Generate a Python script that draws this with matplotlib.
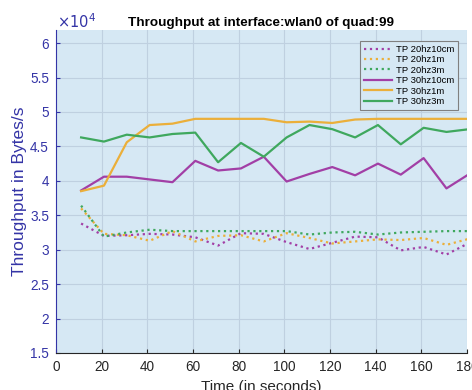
import matplotlib
matplotlib.use("Agg")
import matplotlib.pyplot as plt
import numpy as np

plt.rcParams['font.family'] = ['Liberation Sans', 'DejaVu Sans']

time_s = [11, 21, 31, 41, 51, 61, 71, 81, 91, 101, 111, 121, 131, 141, 151, 161, 171, 181]

tp_20hz10cm = [3.38, 3.20, 3.21, 3.23, 3.22, 3.18, 3.06, 3.24, 3.23, 3.11, 3.01, 3.10, 3.19, 3.18, 2.99, 3.04, 2.93, 3.10]
tp_20hz1m   = [3.60, 3.23, 3.21, 3.13, 3.27, 3.12, 3.20, 3.21, 3.12, 3.24, 3.17, 3.09, 3.12, 3.15, 3.14, 3.17, 3.07, 3.16]
tp_20hz3m   = [3.64, 3.19, 3.25, 3.29, 3.27, 3.27, 3.27, 3.27, 3.27, 3.27, 3.22, 3.25, 3.26, 3.22, 3.25, 3.26, 3.27, 3.27]
tp_30hz10cm = [3.86, 4.06, 4.06, 4.02, 3.98, 4.29, 4.15, 4.18, 4.35, 3.99, 4.10, 4.20, 4.08, 4.25, 4.09, 4.33, 3.89, 4.10]
tp_30hz1m   = [3.85, 3.93, 4.56, 4.81, 4.83, 4.90, 4.90, 4.90, 4.90, 4.85, 4.86, 4.84, 4.89, 4.90, 4.90, 4.90, 4.90, 4.90]
tp_30hz3m   = [4.63, 4.57, 4.67, 4.63, 4.68, 4.70, 4.27, 4.55, 4.35, 4.63, 4.81, 4.75, 4.63, 4.81, 4.53, 4.77, 4.71, 4.75]

labels = ['TP 20hz10cm', 'TP 20hz1m', 'TP 20hz3m', 'TP 30hz10cm', 'TP 30hz1m', 'TP 30hz3m']
title = 'Throughput at interface:wlan0 of quad:99'
scale = 1e4

purple = '#A23FA6'
orange = '#EBAF3A'
green = '#3FA85E'
blue = '#3434A6'
bg = '#D6E8F4'

fig = plt.figure(figsize=(4.72, 3.90), dpi=100)
ax = fig.add_axes([56/472, 1-353/390, (467-56)/472, (353-30)/390])
ax.set_facecolor(bg)

series = [tp_20hz10cm, tp_20hz1m, tp_20hz3m, tp_30hz10cm, tp_30hz1m, tp_30hz3m]
colors = [purple, orange, green, purple, orange, green]
styles = [':', ':', ':', '-', '-', '-']
for s, c, ls, lab in zip(series, colors, styles, labels):
    ax.plot(time_s, np.array(s)*scale, color=c, linestyle=ls, linewidth=1.6, label=lab)

ax.set_xlim(0, 180)
ax.set_ylim(1.5e4, 6.19e4)
ax.set_xticks(np.arange(0, 181, 20))
yt = np.arange(1.5, 6.01, 0.5)
ax.set_yticks(yt*scale)
ax.set_yticklabels([('%g' % v) for v in yt])
ax.grid(True, color='#BFD0E0', linewidth=0.8)
ax.set_axisbelow(True)
ax.tick_params(direction='in', length=3, labelsize=9.8)
ax.tick_params(axis='x', colors='#262626', labelcolor='#262626', pad=5)
ax.tick_params(axis='y', colors=blue, labelcolor=blue, pad=5)
for sp in ['top', 'right']:
    ax.spines[sp].set_visible(False)
ax.spines['left'].set_color(blue)
ax.spines['bottom'].set_color('#262626')

ax.set_ylabel('Throughput in Bytes/s', color=blue, fontsize=12.5, labelpad=2)
ax.set_xlabel('Time (in seconds)', color='#262626', fontsize=11, labelpad=4)
ax.set_title(title, fontsize=9.7, fontweight='bold', pad=3)
fig.text(57/472, 1-22/390, r'$\times10^4$', color=blue, fontsize=10.5, va='center', ha='left')

leg = ax.legend(loc='upper right', fontsize=6.8, handlelength=3.0, frameon=True,
                fancybox=False, edgecolor='#808080', facecolor=bg, framealpha=1,
                borderpad=0.4, labelspacing=0.15, handletextpad=0.4,
                bbox_to_anchor=(0.99, 0.98))
leg.get_frame().set_linewidth(0.8)

fig.savefig('out.png', dpi=100)
